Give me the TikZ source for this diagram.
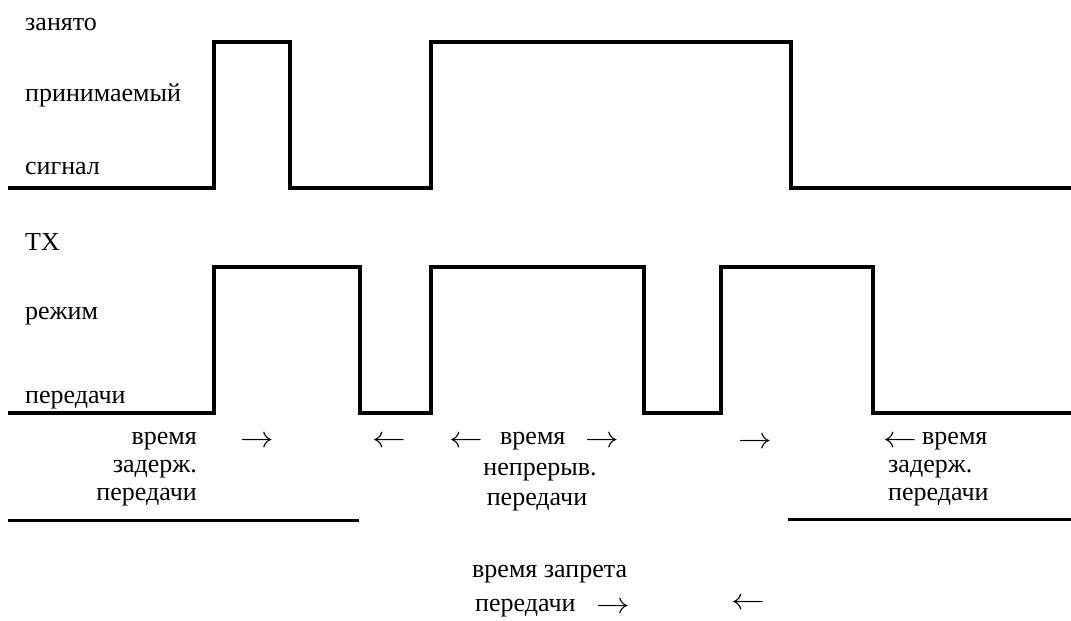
\documentclass[tikz,border=0pt]{standalone}
\usepackage{fontspec}
\setmainfont{Liberation Serif}
\newcommand{\rarr}{\scalebox{1.35}[1.2]{$\rightarrow$}}
\newcommand{\larr}{\scalebox{1.35}[1.2]{$\leftarrow$}}
\begin{document}
\begin{tikzpicture}[x=1pt,y=-1pt,
  wave/.style={line width=4.5pt, line join=miter},
  rule/.style={line width=3pt},
  txt/.style={inner sep=0pt, font=\fontsize{26}{30}\selectfont},
  lbl/.style={txt, anchor=base west},
  lblr/.style={txt, anchor=base east},
  lblc/.style={txt, anchor=base},
  arr/.style={txt, anchor=center}]
\useasboundingbox (0,0) rectangle (1071,621);
% left labels
\node[lbl] (l1) at (25,30) {занято};
\node[lbl] (l2) at (25,101) {принимаемый};
\node[lbl] (l3) at (25,174) {сигнал};
\node[lbl] (l4) at (25,250) {ТХ};
\node[lbl] (l5) at (25,319) {режим};
\node[lbl] (l6) at (25,403) {передачи};
% received signal
\draw[wave] (8,188) -- (214,188) -- (214,42) -- (290,42) -- (290,188) -- (431,188) -- (431,42) -- (791,42) -- (791,188) -- (1071,188);
% TX mode
\draw[wave] (8,413) -- (214,413) -- (214,267) -- (360,267) -- (360,413) -- (431,413) -- (431,267) -- (644,267) -- (644,413) -- (721,413) -- (721,267) -- (873,267) -- (873,413) -- (1071,413);
% left block
\node[lblr] (a1) at (197,444) {время};
\node[lblr] (a2) at (197,472) {задерж.};
\node[lblr] (a3) at (197,500) {передачи};
\node[arr] (ar1) at (257,442) {\rarr};
\node[arr] (ar2) at (389,442) {\larr};
\draw[rule] (8,520) -- (359,520);
% middle block
\node[arr] (ar3) at (466,442) {\larr};
\node[lbl] (b1) at (500,444) {время};
\node[arr] (ar4) at (602,442) {\rarr};
\node[lblc] (b2) at (540,475) {непрерыв.};
\node[lblc] (b3) at (537,505) {передачи};
\node[arr] (ar5) at (755,443) {\rarr};
% right block
\node[arr] (ar6) at (900,442) {\larr};
\node[lbl] (c1) at (922,444) {время};
\node[lbl] (c2) at (888,472) {задерж.};
\node[lbl] (c3) at (888,500) {передачи};
\draw[rule] (788,519) -- (1071,519);
% bottom
\node[lbl] (d1) at (472,577) {время запрета};
\node[lbl] (d2) at (475,611) {передачи};
\node[arr] (ar7) at (613,608) {\rarr};
\node[arr] (ar8) at (748,604) {\larr};
\end{tikzpicture}
\end{document}
